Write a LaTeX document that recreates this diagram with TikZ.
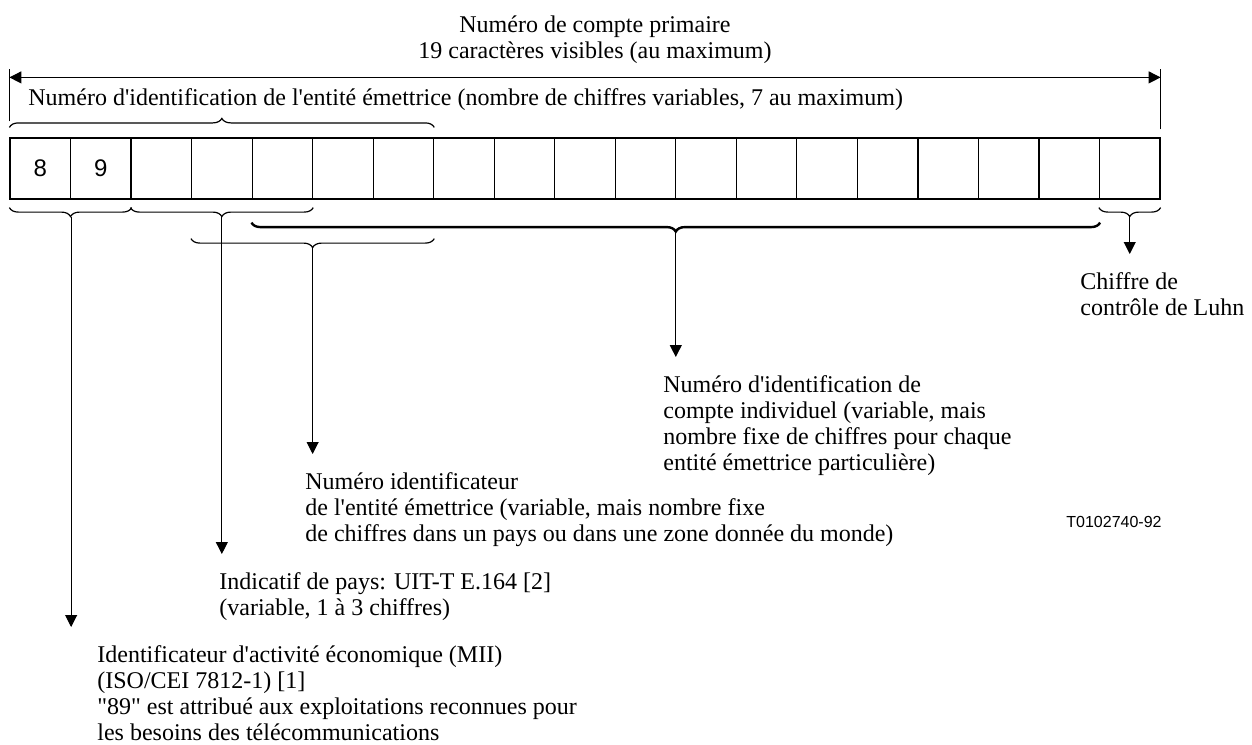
\documentclass[tikz,border=0pt]{standalone}
\usepackage{fontspec}
\setmainfont{Liberation Serif}[Ligatures=TeXOff]
\setsansfont{Liberation Sans}
\usetikzlibrary{arrows.meta}
\usetikzlibrary{calc}
\usetikzlibrary{decorations.pathreplacing}

\tikzset{
  cell/.style={draw,line width=0.6pt,minimum width=30.265pt,minimum height=30.5pt,inner sep=0pt},
  digit/.style={inner sep=0pt,font=\sffamily\fontsize{12}{14}\selectfont},
  lbl/.style={anchor=north west,inner sep=0pt,align=left,font=\fontsize{12}{13}\selectfont},
  brc/.style={decorate,decoration={brace,amplitude=4.5pt,raise=#1},line width=0.6pt},
  pointer/.style={-{Triangle[length=6pt,width=6pt]},line width=0.5pt,shorten >=9pt},
  dim/.style={{Triangle[length=6pt,width=6pt]}-{Triangle[length=6pt,width=6pt]},line width=0.5pt},
}

\begin{document}
\begin{tikzpicture}[x=0.5pt,y=0.5pt,yscale=-1,xscale=1]
\useasboundingbox (0,0) rectangle (1252,744);

%Shape: 19 cells
\foreach \i in {1,...,19}
  \node[cell] (c\i) at ({10+60.526*(\i-0.5)},168.5) {};
\node[digit] (d8) at (c1) {8};
\node[digit] (d9) at (c2) {9};

%Dimension line (yshift is flipped by yscale=-1)
\coordinate (dl) at ([yshift=-30pt]c1.north west);
\coordinate (dr) at ([yshift=-30pt]c19.north east);
\draw[line width=0.5pt] ([yshift=-8pt]c1.north west) -- ([yshift=-34pt]c1.north west);
\draw[line width=0.5pt] ([yshift=-4pt]c19.north east) -- ([yshift=-34pt]c19.north east);
\draw[dim] (dl) -- (dr);

%Braces
\draw[brc=5pt] (c1.north west) -- (c7.north east);
\draw[brc=4pt] (c2.south east) -- (c1.south west);
\draw[brc=4pt] (c5.south east) -- (c3.south west);
\draw[brc=11.5pt,line width=1.2pt] (c18.south east) -- (c5.south west);
\draw[brc=19.5pt] (c7.south east) -- (c4.south west);
\draw[brc=4pt] (c19.south east) -- (c19.south west);

%Brace tips
\coordinate (t1) at ([yshift=8.5pt]c1.south east);
\coordinate (t2) at ([yshift=8.5pt]$(c3.south west)!.5!(c5.south east)$);
\coordinate (t3) at ([yshift=24pt]$(c4.south west)!.5!(c7.south east)$);
\coordinate (t4) at ([yshift=16pt]$(c5.south west)!.5!(c18.south east)$);
\coordinate (t5) at ([yshift=8.5pt]c19.south);

% Text Node
\node[lbl,anchor=north,align=center] (title) at (595,15) {Num\'ero de compte primaire\\19 caract\`eres visibles (au maximum)};
% Text Node
\node[lbl] (issuer) at (28,88) {Num\'ero d'identification de l'entit\'e \'emettrice (nombre de chiffres variables, 7 au maximum)};
% Text Node
\node[lbl] (luhn) at (1080,272) {Chiffre de\\contr\^ole de Luhn};
% Text Node
\node[lbl] (acct) at (663,375) {Num\'ero d'identification de\\compte individuel (variable, mais\\nombre fixe de chiffres pour chaque\\entit\'e \'emettrice particuli\`ere)};
% Text Node
\node[lbl] (iin) at (305,472) {Num\'ero identificateur\\de l'entit\'e \'emettrice (variable, mais nombre fixe\\de chiffres dans un pays ou dans une zone donn\'ee du monde)};
% Text Node
\node[lbl] (cc) at (219,572) {Indicatif de pays: UIT-T E.164 [2]\\(variable, 1 \`a 3 chiffres)};
% Text Node
\node[lbl] (mii) at (97,645) {Identificateur d'activit\'e \'economique (MII)\\(ISO/CEI 7812-1) [1]\\"89" est attribu\'e aux exploitations reconnues pour\\les besoins des t\'el\'ecommunications};
% Text Node
\node[anchor=west,inner sep=0pt,font=\sffamily\fontsize{8}{10}\selectfont] (ref) at (1066,522) {T0102740-92};

%Pointers
\draw[pointer] (t1) -- (t1 |- mii.north);
\draw[pointer] (t2) -- (t2 |- cc.north);
\draw[pointer] (t3) -- (t3 |- iin.north);
\draw[pointer] (t4) -- (t4 |- acct.north);
\draw[pointer] (t5) -- (t5 |- luhn.north);

\end{tikzpicture}
\end{document}
